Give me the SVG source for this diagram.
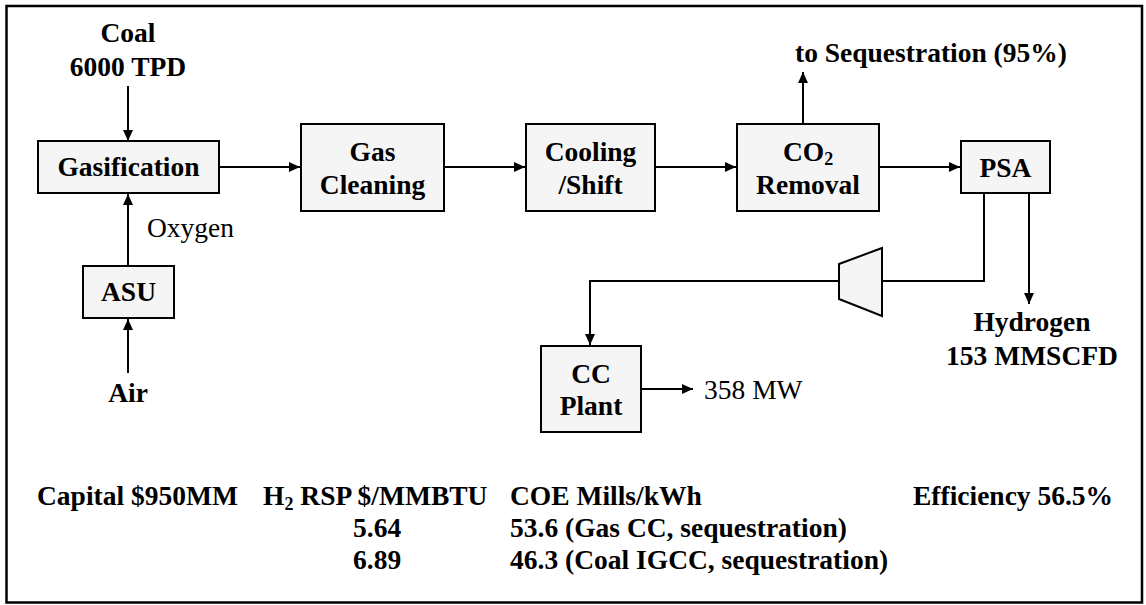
<svg xmlns="http://www.w3.org/2000/svg" width="1146" height="605" viewBox="0 0 1146 605">
<style>
.box{fill:#f5f5f5;stroke:#000;stroke-width:2}
.t{font-family:"Liberation Serif","Times New Roman",serif;font-size:27.5px;font-weight:bold;text-anchor:middle;fill:#000}
.s{text-anchor:start}
.r{font-weight:normal}
.c{stroke:#000;stroke-width:2;fill:none}
</style>
<defs>
<marker id="ah" markerWidth="12" markerHeight="12" refX="11" refY="6" orient="auto" markerUnits="userSpaceOnUse"><path d="M0,1 L11,6 L0,11 Z" fill="#000"/></marker>
</defs>
<rect x="6.5" y="6" width="1135.5" height="596.5" fill="#fff" stroke="#000" stroke-width="2.5"/>
<g id="connectors">
<path class="c" d="M128,86 V141" marker-end="url(#ah)"/>
<path class="c" d="M219,167 H300" marker-end="url(#ah)"/>
<path class="c" d="M444,167 H525" marker-end="url(#ah)"/>
<path class="c" d="M655,167 H736" marker-end="url(#ah)"/>
<path class="c" d="M879,167 H960" marker-end="url(#ah)"/>
<path class="c" d="M803,124 V72" marker-end="url(#ah)"/>
<path class="c" d="M128,266 V194" marker-end="url(#ah)"/>
<path class="c" d="M128,373 V319" marker-end="url(#ah)"/>
<path class="c" d="M984,193 V281 H882"/>
<path class="c" d="M839,281 H590 V345" marker-end="url(#ah)"/>
<path class="c" d="M641,389 H693" marker-end="url(#ah)"/>
<path class="c" d="M1029,193 V304" marker-end="url(#ah)"/>
</g>
<g id="coal"><text class="t" x="128" y="42">Coal</text><text class="t" x="128" y="76">6000 TPD</text></g>
<g id="gasification"><rect class="box" x="38" y="141" width="181" height="52"/><text class="t" x="128.5" y="176">Gasification</text></g>
<g id="gas-cleaning"><rect class="box" x="301" y="124" width="143" height="87"/><text class="t" x="372.5" y="161">Gas</text><text class="t" x="372.5" y="194">Cleaning</text></g>
<g id="cooling-shift"><rect class="box" x="526" y="124" width="129" height="87"/><text class="t" x="590.5" y="161">Cooling</text><text class="t" x="590.5" y="194">/Shift</text></g>
<g id="co2-removal"><rect class="box" x="737" y="124" width="142" height="87"/><text class="t" x="808" y="161">CO<tspan font-size="18" dy="4">2</tspan></text><text class="t" x="808" y="194">Removal</text></g>
<g id="sequestration"><text class="t s" x="795" y="62">to Sequestration (95%)</text></g>
<g id="psa"><rect class="box" x="961" y="141" width="89" height="52"/><text class="t" x="1005.5" y="177">PSA</text></g>
<g id="oxygen"><text class="t s r" x="147" y="237">Oxygen</text></g>
<g id="asu"><rect class="box" x="83" y="266" width="91" height="52"/><text class="t" x="128.5" y="301">ASU</text></g>
<g id="air"><text class="t" x="128" y="402">Air</text></g>
<g id="compressor"><path class="box" d="M839,264 L882,248 L882,316 L839,299 Z"/></g>
<g id="cc-plant"><rect class="box" x="541" y="346" width="100" height="86"/><text class="t" x="591" y="383">CC</text><text class="t" x="591" y="415">Plant</text></g>
<g id="power"><text class="t s r" x="704" y="399">358 MW</text></g>
<g id="hydrogen"><text class="t" x="1032" y="331">Hydrogen</text><text class="t" x="1032" y="365">153 MMSCFD</text></g>
<g id="summary">
<text class="t s" x="37" y="505">Capital $950MM</text>
<text class="t s" x="263" y="505">H<tspan font-size="18" dy="5">2</tspan><tspan dy="-5"> RSP $/MMBTU</tspan></text>
<text class="t s" x="510" y="505">COE Mills/kWh</text>
<text class="t s" x="913" y="505">Efficiency 56.5%</text>
<text class="t s" x="353" y="537">5.64</text>
<text class="t s" x="510" y="537">53.6 (Gas CC, sequestration)</text>
<text class="t s" x="353" y="569">6.89</text>
<text class="t s" x="510" y="569">46.3 (Coal IGCC, sequestration)</text>
</g>
</svg>
